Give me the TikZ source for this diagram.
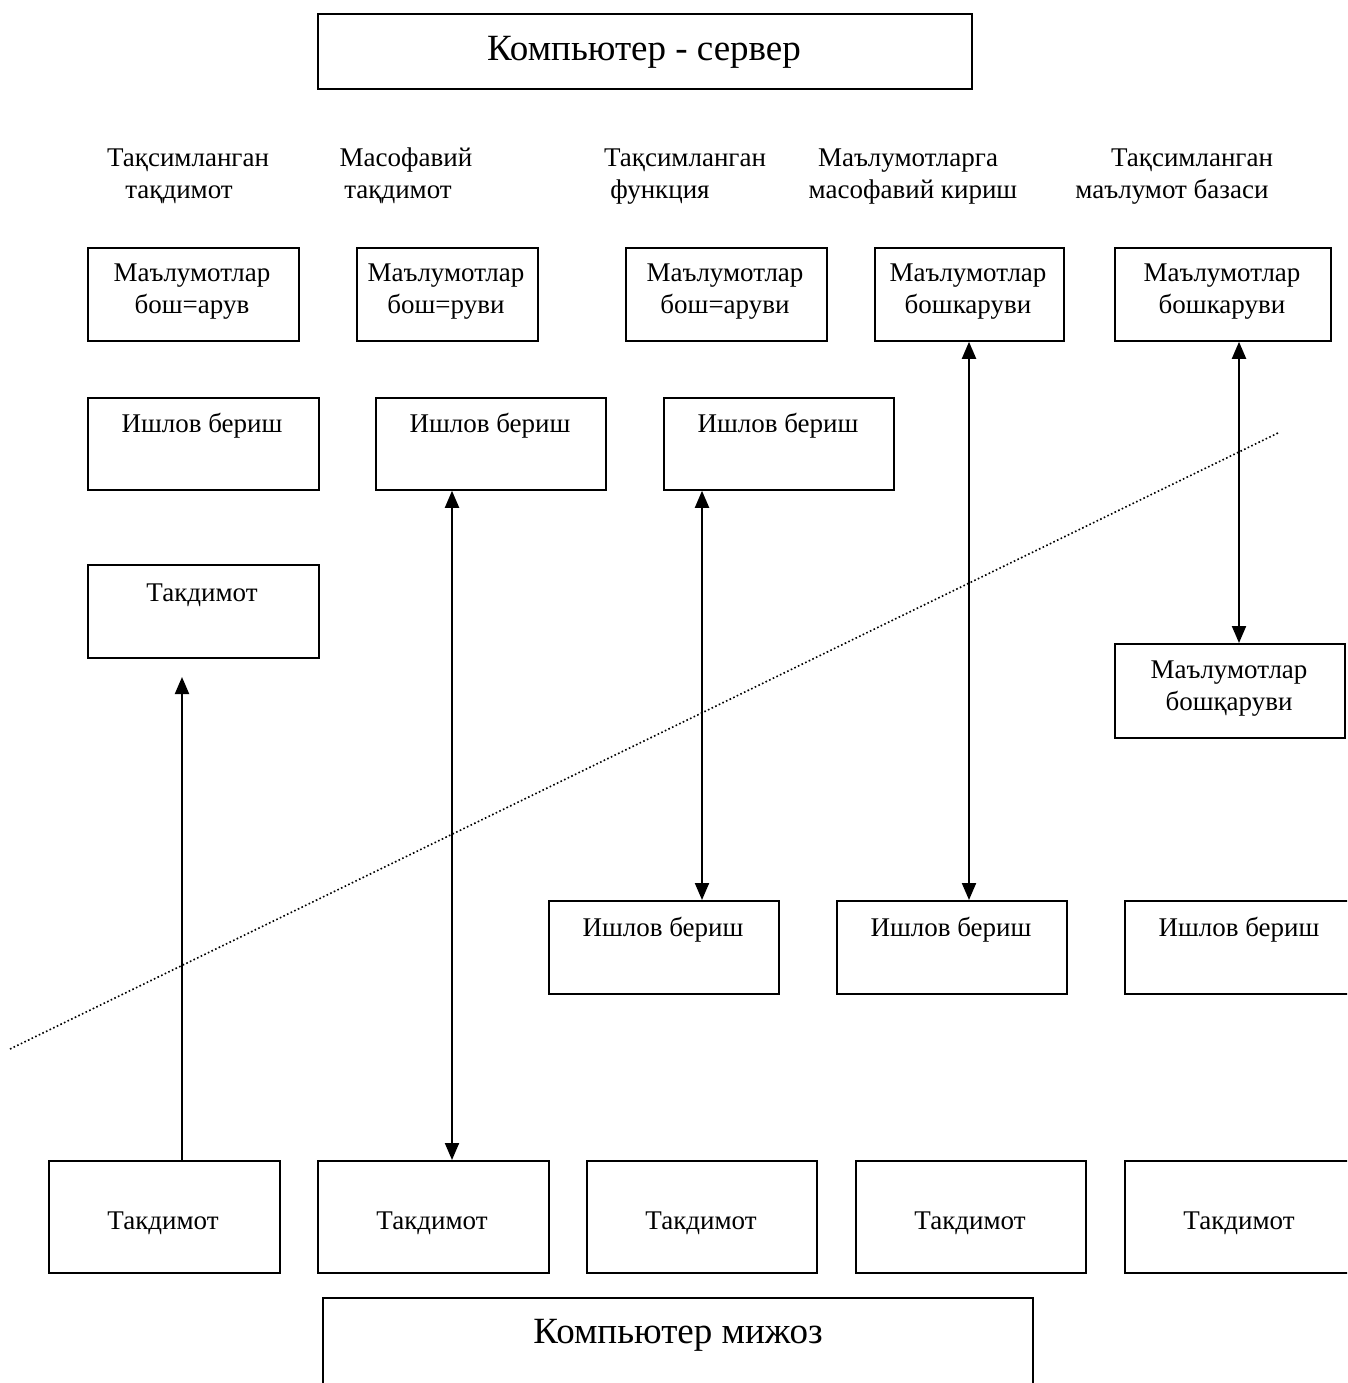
\documentclass[tikz,border=0pt]{standalone}
\usepackage{fontspec}
\setmainfont{Liberation Serif}
\usetikzlibrary{arrows.meta}
\begin{document}
\begin{tikzpicture}[x=1pt,y=-1pt,
  box/.style={draw, line width=1.8pt, inner sep=0pt, anchor=north west},
  txt/.style={font=\fontsize{27}{32}\selectfont, inner sep=0pt, align=center},
  hdr/.style={font=\fontsize{27}{32}\selectfont, inner sep=0pt, anchor=base},
  big/.style={font=\fontsize{37}{44}\selectfont, inner sep=0pt, anchor=base},
  conn/.style={line width=2pt, -{Triangle[length=17pt,width=14pt]}},
  both/.style={line width=2pt, {Triangle[length=17pt,width=14pt]}-{Triangle[length=17pt,width=14pt]}},
  sep/.style={line width=1.6pt, dash pattern=on 1.6pt off 2.4pt}
]
\clip (0,0) rectangle (1347,1383);
\fill[white] (0,0) rectangle (1347,1383);

% server
\node[box, minimum width=654, minimum height=75] (srv) at (317,13) {};
\node[big] (srvt) at (644,61) {Компьютер - сервер};

% headers
\node[hdr] (h1a) at (188,167) {Тақсимланган};
\node[hdr] (h1b) at (179,199) {тақдимот};
\node[hdr] (h2a) at (406,167) {Масофавий};
\node[hdr] (h2b) at (398,199) {тақдимот};
\node[hdr] (h3a) at (685,167) {Тақсимланган};
\node[hdr] (h3b) at (660,199) {функция};
\node[hdr] (h4a) at (908,167) {Маълумотларга};
\node[hdr] (h4b) at (913,199) {масофавий кириш};
\node[hdr] (h5a) at (1192,167) {Тақсимланган};
\node[hdr] (h5b) at (1172,199) {маълумот базаси};

% row 1
\node[box, minimum width=211, minimum height=93] (b1) at (87,247) {};
\node[box, minimum width=181, minimum height=93] (b2) at (356,247) {};
\node[box, minimum width=201, minimum height=93] (b3) at (625,247) {};
\node[box, minimum width=189, minimum height=93] (b4) at (874,247) {};
\node[box, minimum width=216, minimum height=93] (b5) at (1114,247) {};
\node[txt] (b1t) at (192,292) {Маълумотлар\\бош=арув};
\node[txt] (b2t) at (446,292) {Маълумотлар\\бош=руви};
\node[txt] (b3t) at (725,292) {Маълумотлар\\бош=аруви};
\node[txt] (b4t) at (968,292) {Маълумотлар\\бошкаруви};
\node[txt] (b5t) at (1222,292) {Маълумотлар\\бошкаруви};

% row 2
\node[box, minimum width=231, minimum height=92] (c1) at (87,397) {};
\node[box, minimum width=230, minimum height=92] (c2) at (375,397) {};
\node[box, minimum width=230, minimum height=92] (c3) at (663,397) {};
\node[hdr] (c1t) at (202,432) {Ишлов бериш};
\node[hdr] (c2t) at (490,432) {Ишлов бериш};
\node[hdr] (c3t) at (778,432) {Ишлов бериш};

% row 3
\node[box, minimum width=231, minimum height=93] (p1) at (87,564) {};
\node[hdr] (p1t) at (202,601) {Такдимот};
\node[box, minimum width=230, minimum height=94] (f5) at (1114,643) {};
\node[txt] (f5t) at (1229,689) {Маълумотлар\\бошқаруви};

% row 4
\node[box, minimum width=230, minimum height=93] (d3) at (548,900) {};
\node[box, minimum width=230, minimum height=93] (d4) at (836,900) {};
\node[box, minimum width=240, minimum height=93] (d5) at (1124,900) {};
\node[hdr] (d3t) at (663,936) {Ишлов бериш};
\node[hdr] (d4t) at (951,936) {Ишлов бериш};
\node[hdr] (d5t) at (1239,936) {Ишлов бериш};

% bottom row
\node[box, minimum width=231, minimum height=112] (e1) at (48,1160) {};
\node[box, minimum width=231, minimum height=112] (e2) at (317,1160) {};
\node[box, minimum width=230, minimum height=112] (e3) at (586,1160) {};
\node[box, minimum width=230, minimum height=112] (e4) at (855,1160) {};
\node[box, minimum width=240, minimum height=112] (e5) at (1124,1160) {};
\node[hdr] (e1t) at (163,1229) {Такдимот};
\node[hdr] (e2t) at (432,1229) {Такдимот};
\node[hdr] (e3t) at (701,1229) {Такдимот};
\node[hdr] (e4t) at (970,1229) {Такдимот};
\node[hdr] (e5t) at (1239,1229) {Такдимот};

% client
\node[box, minimum width=710, minimum height=110] (cli) at (322,1297) {};
\node[big] (clit) at (678,1343) {Компьютер мижоз};

% connectors
\coordinate (t1) at (182,677);
\coordinate (x2) at (452,0);
\coordinate (x3) at (702,0);
\coordinate (x4) at (969,0);
\coordinate (x5) at (1239,0);
\draw[conn] (e1.north -| t1) -- (t1);
\draw[both] (c2.south -| x2) -- (e2.north -| x2);
\draw[both] (c3.south -| x3) -- (d3.north -| x3);
\draw[both] (b4.south -| x4) -- (d4.north -| x4);
\draw[both] (b5.south -| x5) -- (f5.north -| x5);

% separator
\coordinate (L1) at (10,1049);
\coordinate (L2) at (1278,433);
\draw[sep] (L1) -- (L2);
\end{tikzpicture}
\end{document}
